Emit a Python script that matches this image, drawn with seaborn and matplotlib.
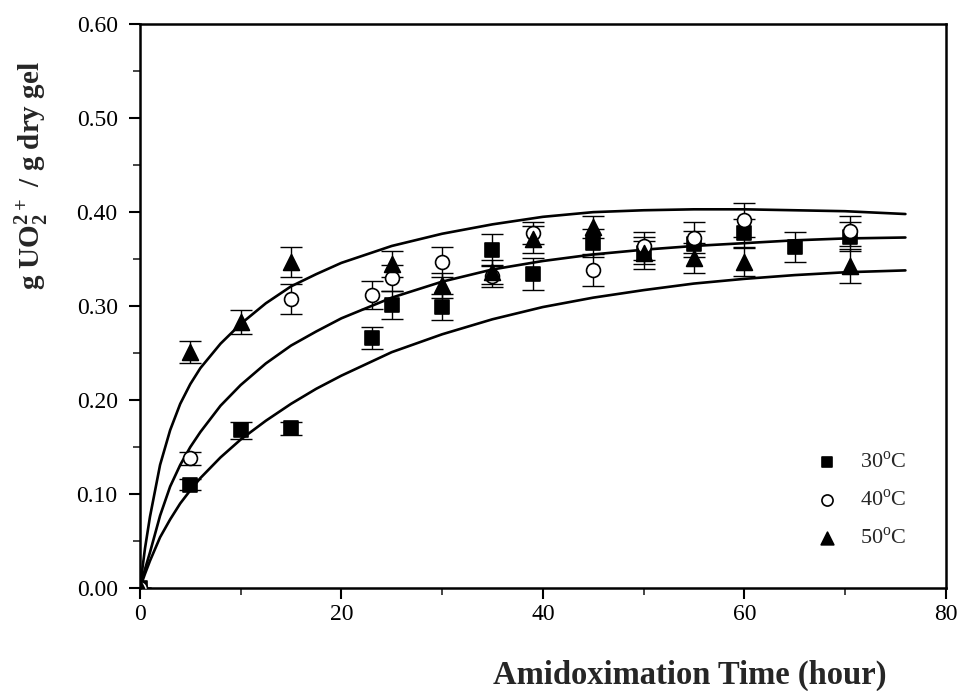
import numpy as np
import matplotlib
matplotlib.use("Agg")
import matplotlib.pyplot as plt
import seaborn as sns
import pandas as pd

# measured points (hour, g UO2 / g dry gel) and error half-widths
t30 = [0, 5, 10, 15, 23, 25, 30, 35, 39, 45, 50, 55, 60, 65, 70.5]
q30 = [0, 0.110, 0.168, 0.170, 0.266, 0.301, 0.299, 0.360, 0.334, 0.367, 0.357, 0.366, 0.378, 0.363, 0.374]
e30 = [0, 0.006, 0.009, 0.007, 0.012, 0.015, 0.014, 0.017, 0.017, 0.015, 0.012, 0.014, 0.015, 0.016, 0.015]

t40 = [0, 5, 15, 23, 25, 30, 35, 39, 45, 50, 55, 60, 70.5]
q40 = [0, 0.138, 0.308, 0.312, 0.330, 0.347, 0.332, 0.378, 0.338, 0.364, 0.373, 0.392, 0.380]
e40 = [0, 0.007, 0.016, 0.015, 0.014, 0.016, 0.012, 0.012, 0.017, 0.015, 0.017, 0.018, 0.016]

t50 = [0, 5, 10, 15, 25, 30, 35, 39, 45, 50, 55, 60, 70.5]
q50 = [0, 0.251, 0.283, 0.347, 0.345, 0.322, 0.336, 0.371, 0.384, 0.357, 0.351, 0.347, 0.343]
e50 = [0, 0.012, 0.013, 0.016, 0.014, 0.013, 0.013, 0.014, 0.012, 0.017, 0.016, 0.015, 0.018]

# fitted curves
fit_t = [0, 0.5, 1, 2, 3, 4, 5, 6, 8, 10, 12.5, 15, 17.5, 20, 25, 30, 35, 40, 45, 50, 55, 60, 65, 70, 76]
fit30 = [0, 0.015, 0.029, 0.054, 0.073, 0.090, 0.104, 0.117, 0.139, 0.158, 0.178, 0.196, 0.212, 0.226,
         0.251, 0.270, 0.286, 0.299, 0.309, 0.317, 0.324, 0.329, 0.333, 0.336, 0.338]
fit40 = [0, 0.020, 0.038, 0.077, 0.108, 0.131, 0.150, 0.166, 0.194, 0.216, 0.239, 0.258, 0.273, 0.287,
         0.309, 0.326, 0.339, 0.348, 0.355, 0.360, 0.364, 0.367, 0.370, 0.372, 0.373]
fit50 = [0, 0.042, 0.076, 0.131, 0.168, 0.196, 0.217, 0.234, 0.260, 0.281, 0.303, 0.321, 0.334, 0.346,
         0.364, 0.377, 0.387, 0.395, 0.400, 0.402, 0.403, 0.403, 0.402, 0.401, 0.398]

labels = ["30$^{\\rm o}$C", "40$^{\\rm o}$C", "50$^{\\rm o}$C"]

sns.set_theme(style="ticks")
plt.rcParams["font.family"] = ["Liberation Serif", "DejaVu Serif"]
plt.rcParams["mathtext.fontset"] = "custom"
plt.rcParams["mathtext.rm"] = "Liberation Serif"
plt.rcParams["mathtext.bf"] = "Liberation Serif:bold"

fig, ax = plt.subplots(figsize=(9.65, 6.91), dpi=100)
fig.subplots_adjust(left=0.145, right=0.980, bottom=0.149, top=0.965)

fits = pd.DataFrame({"t": fit_t, "30": fit30, "40": fit40, "50": fit50})
for col in ["30", "40", "50"]:
    sns.lineplot(data=fits, x="t", y=col, ax=ax, color="black", lw=1.9, zorder=2)

series = [(t30, q30, e30, "s", "black", 95),
          (t40, q40, e40, "o", "white", 100),
          (t50, q50, e50, "^", "black", 130)]
for (t, q, e, m, fc, sz), lab in zip(series, labels):
    ax.errorbar(t, q, yerr=e, fmt="none", ecolor="black", elinewidth=1.0,
                capsize=8, capthick=1.0, zorder=3)
    sns.scatterplot(x=t, y=q, ax=ax, marker=m, s=sz, color=fc, edgecolor="black",
                    linewidth=1.2, label=lab, zorder=4)

ax.set_xlim(0, 80)
ax.set_ylim(0, 0.60)
ax.set_xticks([0, 20, 40, 60, 80])
ax.set_xticks([10, 30, 50, 70], minor=True)
ax.set_yticks(np.arange(0, 0.61, 0.1))
ax.set_yticks(np.arange(0.05, 0.6, 0.1), minor=True)
ax.set_yticklabels([f"{v:.2f}" for v in np.arange(0, 0.61, 0.1)])
ax.tick_params(which="major", direction="out", length=8, width=1.5, labelsize=17,
               colors="black")
ax.tick_params(axis="y", which="major", pad=8)
ax.tick_params(which="minor", direction="out", length=5, width=1.2)
for sp in ax.spines.values():
    sp.set_linewidth(1.8)
    sp.set_color("black")

ax.set_xlabel("Amidoximation Time (hour)", fontsize=23.5, fontweight="bold")
ax.set_ylabel("g UO$_\\mathbf{2}^\\mathbf{2+}$ / g dry gel", fontsize=21, fontweight="bold")
ax.xaxis.set_label_coords(0.682, -0.128)
ax.yaxis.set_label_coords(-0.112, 0.732)

leg = ax.legend(loc="center", bbox_to_anchor=(0.888, 0.156), frameon=False,
                fontsize=16, handletextpad=0.5, labelspacing=0.75, markerscale=0.8)

fig.savefig("out.png", dpi=100)
